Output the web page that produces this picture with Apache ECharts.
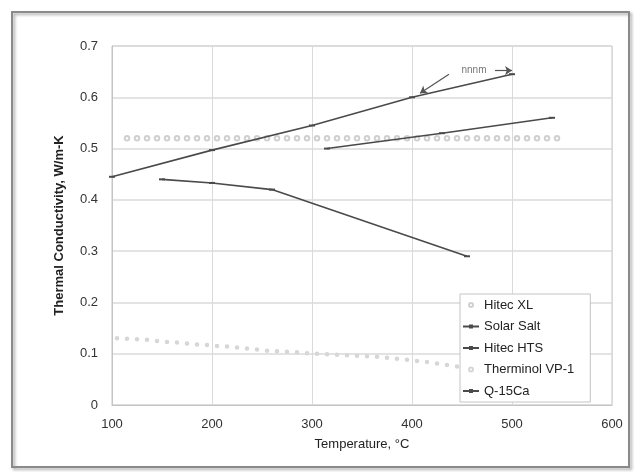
<!DOCTYPE html>
<html><head><meta charset="utf-8">
<script src="https://cdn.jsdelivr.net/npm/echarts@6/dist/echarts.min.js"></script>
<style>html,body{margin:0;padding:0;background:#fff}#c{width:643px;height:472px}</style>
</head><body><div id="c"></div>
<script>
const xTicks = [100, 200, 300, 400, 500, 600];
const yTicks = [0, 0.1, 0.2, 0.3, 0.4, 0.5, 0.6, 0.7];
const hitecXL_T = [115,125,135,145,155,165,175,185,195,205,215,225,235,245,255,265,275,285,295,305,315,325,335,345,355,365,375,385,395,405,415,425,435,445,455,465,475,485,495,505,515,525,535,545];
const hitecXL_K = [0.52,0.52,0.52,0.52,0.52,0.52,0.52,0.52,0.52,0.52,0.52,0.52,0.52,0.52,0.52,0.52,0.52,0.52,0.52,0.52,0.52,0.52,0.52,0.52,0.52,0.52,0.52,0.52,0.52,0.52,0.52,0.52,0.52,0.52,0.52,0.52,0.52,0.52,0.52,0.52,0.52,0.52,0.52,0.52];
const solarSalt_T = [100, 200, 300, 400, 500];
const solarSalt_K = [0.445, 0.497, 0.545, 0.600, 0.645];
const hitecHTS_T = [150, 200, 260, 455];
const hitecHTS_K = [0.440, 0.433, 0.420, 0.290];
const therminol_T = [105,115,125,135,145,155,165,175,185,195,205,215,225,235,245,255,265,275,285,295,305,315,325,335,345,355,365,375,385,395,405,415,425,435,445];
const therminol_K = [0.130,0.129,0.128,0.127,0.125,0.123,0.122,0.120,0.118,0.117,0.115,0.114,0.112,0.110,0.108,0.106,0.105,0.104,0.103,0.101,0.100,0.099,0.098,0.097,0.096,0.095,0.094,0.092,0.090,0.088,0.086,0.084,0.081,0.078,0.075];
const q15_T = [315, 430, 540];
const q15_K = [0.500, 0.530, 0.560];
const names = ['Hitec XL', 'Solar Salt', 'Hitec HTS', 'Therminol VP-1', 'Q-15Ca'];
const annotText = 'nnnm';

const zip = (a, b) => a.map((v, i) => [v, b[i]]);
const FONT = "'Liberation Sans Narrow','Liberation Sans',Arial,sans-serif";
const dark = '#4a4a4a';

const chart = echarts.init(document.getElementById('c'), null, {renderer: 'canvas'});
chart.setOption({
  animation: false,
  backgroundColor: '#fff',
  textStyle: {fontFamily: FONT},
  graphic: [{
    type: 'rect', shape: {x: 12, y: 12, width: 617, height: 455},
    style: {fill: 'none', stroke: '#8a8a8a', lineWidth: 2, shadowBlur: 3, shadowColor: 'rgba(0,0,0,0.35)', shadowOffsetX: 2, shadowOffsetY: 2}, z: -1
  }],
  grid: {left: 112, right: 31, top: 46, bottom: 67, show: true, borderColor: '#c4c4c4', borderWidth: 1},
  xAxis: {
    type: 'value', min: xTicks[0], max: xTicks[xTicks.length - 1], interval: 100,
    name: 'Temperature, °C', nameLocation: 'middle', nameGap: 33,
    nameTextStyle: {fontSize: 13, color: '#222', fontFamily: FONT},
    axisLine: {show: true, lineStyle: {color: '#c4c4c4'}}, axisTick: {show: false},
    axisLabel: {fontSize: 13, color: '#333', margin: 13, fontFamily: FONT},
    splitLine: {show: true, lineStyle: {color: '#dadada'}}
  },
  yAxis: {
    type: 'value', min: yTicks[0], max: yTicks[yTicks.length - 1], interval: 0.1,
    name: 'Thermal Conductivity, W/m-K', nameLocation: 'middle', nameGap: 46,
    nameTextStyle: {fontSize: 13, color: '#222', fontWeight: 'bold', fontFamily: FONT},
    axisLine: {show: true, lineStyle: {color: '#c4c4c4'}}, axisTick: {show: false},
    axisLabel: {fontSize: 13, color: '#333', margin: 14, fontFamily: FONT},
    splitLine: {show: true, lineStyle: {color: '#dadada', width: 1.5}}
  },
  legend: {
    orient: 'vertical', left: 460, top: 294, itemGap: 7.5, itemWidth: 16, itemHeight: 5,
    backgroundColor: '#fff', borderColor: '#c4c4c4', borderWidth: 1, padding: [4, 16, 4, 2],
    textStyle: {fontSize: 13, color: '#222', fontFamily: FONT, lineHeight: 14},
    data: names
  },
  series: [
    {name: names[0], type: 'line', data: zip(hitecXL_T, hitecXL_K), symbol: 'emptyCircle', symbolSize: 4.5,
     itemStyle: {color: '#d0d0d0', borderWidth: 1}, lineStyle: {width: 0, opacity: 0}, z: 2},
    {name: names[1], type: 'line', data: zip(solarSalt_T, solarSalt_K), symbol: 'rect', symbolSize: [6, 2],
     itemStyle: {color: dark}, lineStyle: {color: dark, width: 1.6}, z: 3,
     markLine: {silent: true, symbol: ['none', 'arrow'], symbolSize: 7, label: {show: false},
       lineStyle: {color: '#555', width: 1.2, type: 'solid'},
       data: [
         [{coord: [437, 0.645]}, {coord: [408, 0.608]}],
         [{coord: [483, 0.652]}, {coord: [500, 0.652]}]
       ]}},
    {name: names[2], type: 'line', data: zip(hitecHTS_T, hitecHTS_K), symbol: 'rect', symbolSize: [6, 2],
     itemStyle: {color: dark}, lineStyle: {color: dark, width: 1.6}, z: 3},
    {name: names[3], type: 'line', data: zip(therminol_T, therminol_K), symbol: 'emptyCircle', symbolSize: 2.5,
     itemStyle: {color: '#d6d6d6'}, lineStyle: {width: 0, opacity: 0}, z: 2},
    {name: names[4], type: 'line', data: zip(q15_T, q15_K), symbol: 'rect', symbolSize: [6, 2],
     itemStyle: {color: dark}, lineStyle: {color: dark, width: 1.6}, z: 3,
     markPoint: {symbol: 'circle', symbolSize: 1, itemStyle: {color: 'transparent'},
       label: {show: true, formatter: annotText, color: '#777', fontSize: 10, fontFamily: FONT},
       data: [{coord: [462, 0.652]}]}}
  ]
});
</script></body></html>
